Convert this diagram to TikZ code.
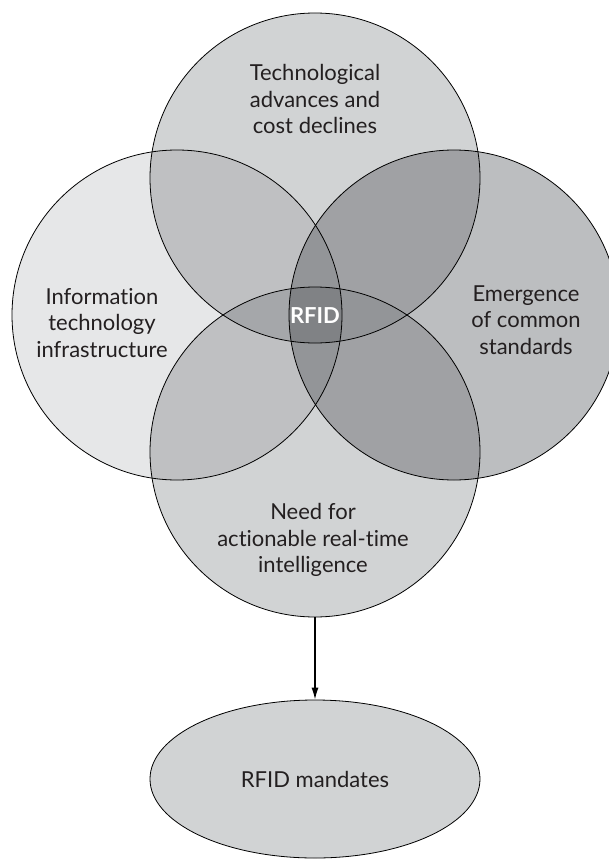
\documentclass[tikz,border=0pt]{standalone}
\usepackage{fontspec}
\setmainfont{Lato}[Ligatures={NoCommon,NoRare}]
\usetikzlibrary{arrows.meta,positioning,shapes}
\definecolor{inkgray}{HTML}{231F20}
\definecolor{grayL}{HTML}{E6E7E8}
\definecolor{grayT}{HTML}{D1D3D4}
\definecolor{grayR}{HTML}{BCBEC0}
\definecolor{grayLT}{HTML}{BFC0C2}
\definecolor{grayRT}{HTML}{A0A1A4}
\definecolor{grayLTB}{HTML}{A5A7AA}
\definecolor{grayThree}{HTML}{939598}
\definecolor{grayAll}{HTML}{808285}
\tikzset{%
  >={Latex[width=7pt,length=12pt]},
  % Specifications for style of nodes:
        ring/.style = {circle, minimum size=330pt, inner sep=0pt},
   ringtext/.style = {align=center, text=inkgray,
                      font=\fontsize{22}{26.7}\selectfont},
     mandate/.style = {ellipse, draw=black, line width=0.8pt, fill=grayT,
                      minimum width=330pt, minimum height=158pt,
                      text=inkgray, font=\fontsize{22}{26.7}\selectfont},
}

\begin{document}
\begin{tikzpicture}[x=1pt, y=-1pt]
\useasboundingbox (0,0) rectangle (609,859);

\node (IT)   [ring, fill=grayL] at (177,315) {};
\node (Tech) [ring, fill=grayT] at (315,178) {};
\node (Need) [ring, fill=grayT] at (315,452) {};
\node (Std)  [ring, fill=grayR] at (454,315) {};

% overlaps with the bottom circle
\begin{scope}
  \clip (Need.center) circle[radius=165];
  \fill[grayLT] (IT.center) circle[radius=165];
  \fill[grayRT] (Std.center) circle[radius=165];
  \clip (IT.center) circle[radius=165];
  \fill[grayThree] (Std.center) circle[radius=165];
\end{scope}

% overlaps with the top circle
\begin{scope}
  \clip (Tech.center) circle[radius=165];
  \fill[grayLT] (IT.center) circle[radius=165];
  \fill[grayRT] (Std.center) circle[radius=165];
  \begin{scope}
    \clip (Std.center) circle[radius=165];
    \fill[grayThree] (Need.center) circle[radius=165];
  \end{scope}
  \clip (IT.center) circle[radius=165];
  \fill[grayThree] (Std.center) circle[radius=165];
  \fill[grayLTB] (Need.center) circle[radius=165];
  \clip (Std.center) circle[radius=165];
  \fill[grayAll] (Need.center) circle[radius=165];
\end{scope}

\foreach \c in {IT,Tech,Need,Std}
  \draw[line width=0.8pt] (\c.center) circle[radius=165];

\node (TechTxt) [ringtext] at (315,99)  {Technological\\advances and\\cost declines};
\node (ITTxt)   [ringtext] at (102,323) {Information\\technology\\infrastructure};
\node (StdTxt)  [ringtext] at (526,320) {Emergence\\of common\\standards};
\node (NeedTxt) [ringtext] at (313,540) {Need for\\actionable real-time\\intelligence};
\node (Core)    [ringtext, text=white, font=\fontsize{22}{26.7}\selectfont\bfseries]
                at (315,316) {RFID};

\node (Mand)    [mandate] at (315,779) {RFID mandates};

\draw[->, line width=1.3pt] (Need.south) -- (Mand.north);
\end{tikzpicture}
\end{document}
